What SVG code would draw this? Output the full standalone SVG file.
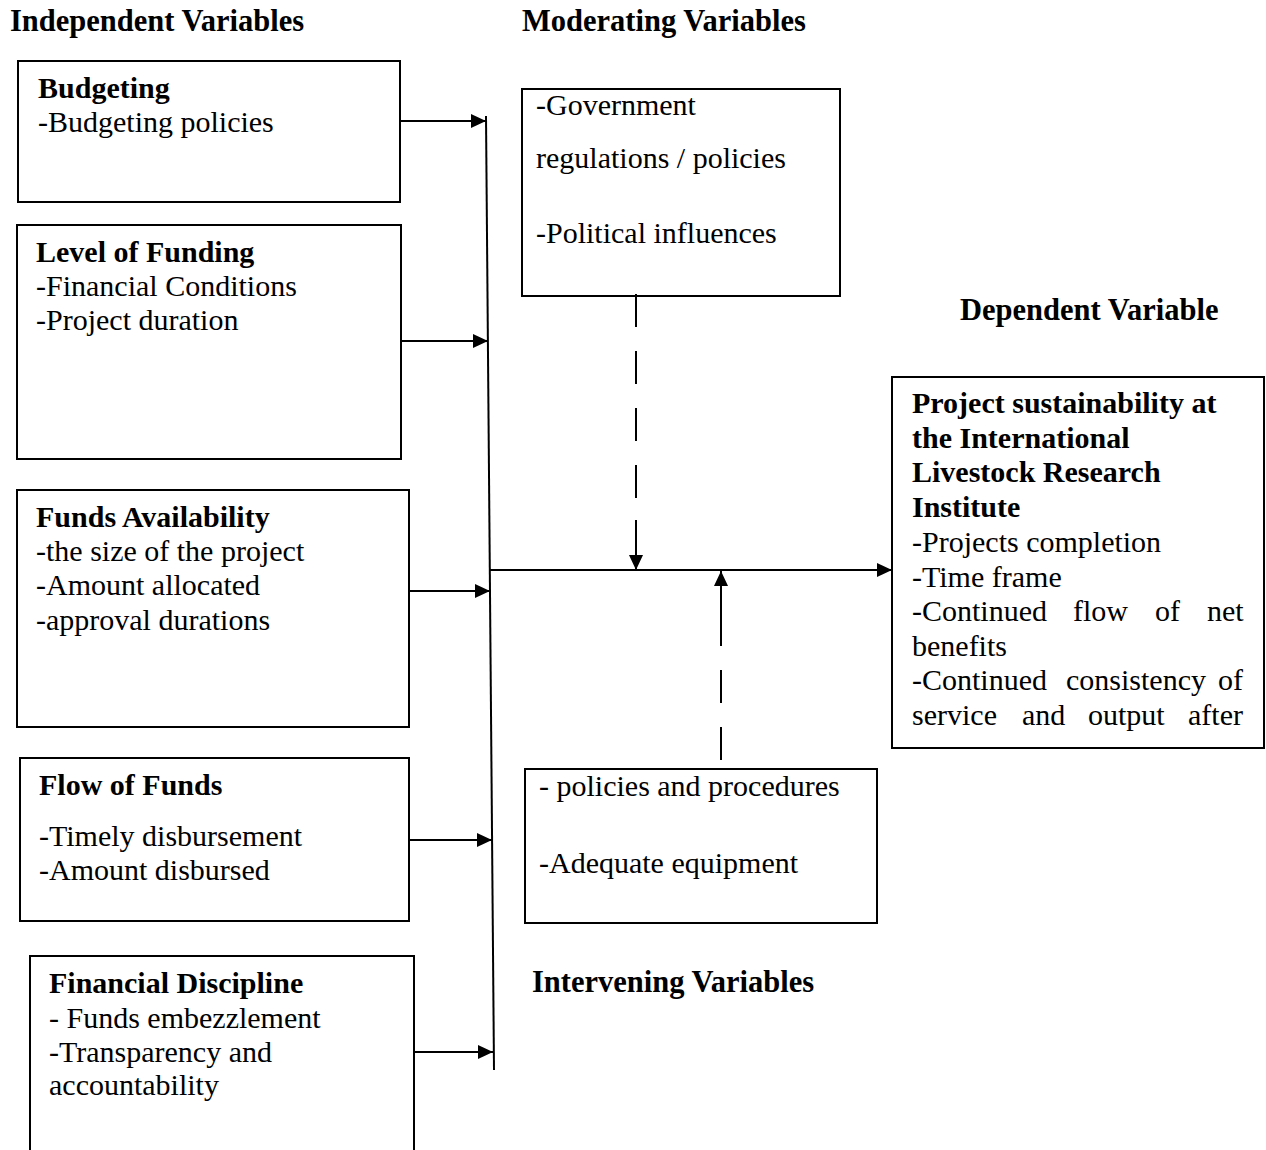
<svg xmlns="http://www.w3.org/2000/svg" width="1266" height="1150" viewBox="0 0 1266 1150">
<style>
text{font-family:"Liberation Serif","Times New Roman",serif;font-size:30px;fill:#000}
.b{font-weight:bold}
.h{font-size:30.5px}
.box{fill:none;stroke:#000;stroke-width:2}
.ln{fill:none;stroke:#000;stroke-width:2}
.dash{fill:none;stroke:#000;stroke-width:2;stroke-dasharray:33 24}
</style>
<defs>
<marker id="ah" markerWidth="15" markerHeight="14" refX="15" refY="7" orient="auto" markerUnits="userSpaceOnUse">
<path d="M0,0 L15,7 L0,14 Z" fill="#000"/>
</marker>
</defs>
<rect width="1266" height="1150" fill="#fff"/>

<g id="headers">
<text class="b h" x="10" y="31">Independent Variables</text>
<text class="b h" x="522" y="31">Moderating Variables</text>
<text class="b h" x="960" y="320">Dependent Variable</text>
<text class="b h" x="532" y="992">Intervening Variables</text>
</g>

<g id="budgeting">
<rect class="box" x="18" y="61" width="382" height="141"/>
<text class="b" x="38" y="98">Budgeting</text>
<text x="38" y="132">-Budgeting policies</text>
</g>

<g id="level-of-funding">
<rect class="box" x="17" y="225" width="384" height="234"/>
<text class="b" x="36" y="262">Level of Funding</text>
<text x="36" y="296">-Financial Conditions</text>
<text x="36" y="330">-Project duration</text>
</g>

<g id="funds-availability">
<rect class="box" x="17" y="490" width="392" height="237"/>
<text class="b" x="36" y="527">Funds Availability</text>
<text x="36" y="561">-the size of the project</text>
<text x="36" y="595">-Amount allocated</text>
<text x="36" y="630">-approval durations</text>
</g>

<g id="flow-of-funds">
<rect class="box" x="20" y="758" width="389" height="163"/>
<text class="b" x="39" y="795">Flow of Funds</text>
<text x="39" y="846">-Timely disbursement</text>
<text x="39" y="880">-Amount disbursed</text>
</g>

<g id="financial-discipline">
<rect class="box" x="30" y="956" width="384" height="220"/>
<text class="b" x="49" y="993">Financial Discipline</text>
<text x="49" y="1028">- Funds embezzlement</text>
<text x="49" y="1062">-Transparency and</text>
<text x="49" y="1095">accountability</text>
</g>

<g id="moderating">
<rect class="box" x="522" y="89" width="318" height="207"/>
<text x="536" y="115">-Government</text>
<text x="536" y="168">regulations / policies</text>
<text x="536" y="243">-Political influences</text>
</g>

<g id="intervening">
<rect class="box" x="525" y="769" width="352" height="154"/>
<text x="539" y="796">- policies and procedures</text>
<text x="539" y="873">-Adequate equipment</text>
</g>

<g id="dependent">
<rect class="box" x="892" y="377" width="372" height="371"/>
<text class="b" x="912" y="413">Project sustainability at</text>
<text class="b" x="912" y="448">the International</text>
<text class="b" x="912" y="482">Livestock Research</text>
<text class="b" x="912" y="517">Institute</text>
<text x="912" y="552">-Projects completion</text>
<text x="912" y="587">-Time frame</text>
<text y="621"><tspan x="912">-Continued</tspan><tspan x="1073">flow</tspan><tspan x="1155">of</tspan><tspan x="1207">net</tspan></text>
<text x="912" y="656">benefits</text>
<text y="690"><tspan x="912">-Continued</tspan><tspan x="1066">consistency</tspan><tspan x="1218">of</tspan></text>
<text y="725"><tspan x="912">service</tspan><tspan x="1022">and</tspan><tspan x="1088">output</tspan><tspan x="1188">after</tspan></text>
</g>

<g id="connectors">
<line class="ln" x1="486" y1="116" x2="494" y2="1070"/>
<line class="ln" x1="400" y1="121" x2="486" y2="121" marker-end="url(#ah)"/>
<line class="ln" x1="401" y1="341" x2="488" y2="341" marker-end="url(#ah)"/>
<line class="ln" x1="409" y1="591" x2="490" y2="591" marker-end="url(#ah)"/>
<line class="ln" x1="409" y1="840" x2="492" y2="840" marker-end="url(#ah)"/>
<line class="ln" x1="414" y1="1052" x2="493" y2="1052" marker-end="url(#ah)"/>
<line class="ln" x1="490" y1="570" x2="892" y2="570" marker-end="url(#ah)"/>
<line class="dash" x1="636" y1="294" x2="636" y2="520"/>
<line class="ln" x1="636" y1="520" x2="636" y2="570" marker-end="url(#ah)"/>
<line class="dash" x1="721" y1="760" x2="721" y2="620"/>
<line class="ln" x1="721" y1="620" x2="721" y2="571" marker-end="url(#ah)"/>
</g>
</svg>
